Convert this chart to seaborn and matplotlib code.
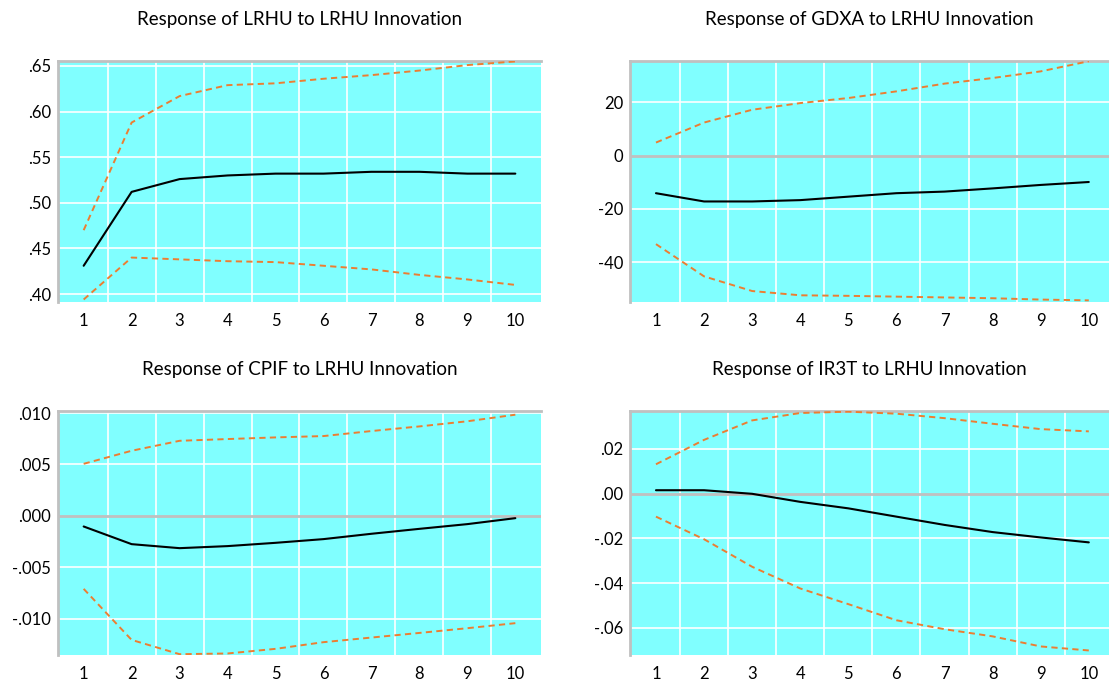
import matplotlib
matplotlib.use("Agg")
import matplotlib.pyplot as plt
import numpy as np
import seaborn as sns

periods = list(range(1, 11))

titles = [
    "Response of LRHU to LRHU Innovation",
    "Response of GDXA to LRHU Innovation",
    "Response of CPIF to LRHU Innovation",
    "Response of IR3T to LRHU Innovation",
]

# impulse responses (point estimate, upper and lower bands)
lrhu_mid = [0.431, 0.512, 0.526, 0.530, 0.532, 0.532, 0.534, 0.534, 0.532, 0.532]
lrhu_up = [0.470, 0.588, 0.617, 0.629, 0.631, 0.636, 0.640, 0.645, 0.651, 0.655]
lrhu_lo = [0.394, 0.440, 0.438, 0.436, 0.435, 0.431, 0.427, 0.421, 0.416, 0.410]

gdxa_mid = [-14.1, -17.2, -17.2, -16.7, -15.4, -14.1, -13.5, -12.3, -11.0, -9.9]
gdxa_up = [4.9, 12.4, 17.2, 19.7, 21.6, 24.1, 27.0, 29.1, 31.6, 35.4]
gdxa_lo = [-33.2, -45.3, -50.8, -52.4, -52.6, -52.9, -53.2, -53.5, -54.0, -54.3]

cpif_mid = [-0.00104, -0.00276, -0.00315, -0.00295, -0.00263, -0.00227, -0.00175, -0.00127, -0.00081, -0.00023]
cpif_up = [0.00506, 0.00633, 0.00730, 0.00747, 0.00763, 0.00776, 0.00825, 0.00870, 0.00920, 0.00984]
cpif_lo = [-0.00711, -0.01208, -0.01347, -0.01340, -0.01295, -0.01230, -0.01185, -0.01140, -0.01094, -0.01045]

ir3t_mid = [0.0015, 0.0015, -0.0001, -0.0037, -0.0066, -0.0103, -0.0140, -0.0172, -0.0196, -0.0218]
ir3t_up = [0.0131, 0.0240, 0.0327, 0.0360, 0.0366, 0.0357, 0.0337, 0.0312, 0.0288, 0.0278]
ir3t_lo = [-0.0103, -0.0204, -0.0327, -0.0424, -0.0494, -0.0566, -0.0606, -0.0638, -0.0683, -0.0701]

yticks = [
    [0.40, 0.45, 0.50, 0.55, 0.60, 0.65],
    [-40, -20, 0, 20],
    [-0.010, -0.005, 0.000, 0.005, 0.010],
    [-0.06, -0.04, -0.02, 0.00, 0.02],
]
decimals = [2, 0, 3, 2]
ylims = [(0.3916, 0.6558), (-54.8, 35.6), (-0.0135, 0.0102), (-0.0719, 0.0369)]
xlims = [(0.465, 10.535), (0.46, 10.42), (0.465, 10.535), (0.46, 10.42)]

series = [
    (lrhu_mid, lrhu_up, lrhu_lo),
    (gdxa_mid, gdxa_up, gdxa_lo),
    (cpif_mid, cpif_up, cpif_lo),
    (ir3t_mid, ir3t_up, ir3t_lo),
]

sns.set_style("white")
plt.rcParams["font.family"] = ["Lato", "DejaVu Sans"]

W, H = 1109, 680
fig = plt.figure(figsize=(W / 100, H / 100), dpi=100)

boxes = [
    (58, 60.7, 541, 301.7),
    (630, 60.7, 1109, 301.7),
    (58, 411, 541, 654.5),
    (630, 411, 1109, 654.5),
]


def fmt(v, dec):
    s = f"{v:.{dec}f}"
    if dec > 0:
        s = s.replace("-0.", "-.").replace("0.", ".", 1) if s.startswith(("0.", "-0.")) else s
    if s in ("-0", "-.00", "-.000"):
        s = s[1:]
    return s


cyan = "#80FFFF"
orange = "#ED7D31"
frame = "#C0C0C0"

for i, (l, t, r, b) in enumerate(boxes):
    ax = fig.add_axes([l / W, 1 - b / H, (r - l) / W, (b - t) / H])
    ax.set_facecolor(cyan)
    mid, up, lo = series[i]

    # grid
    for gx in np.arange(1.5, 10.5, 1.0):
        ax.axvline(gx, color="white", lw=1.2, zorder=1)
    for gy in yticks[i]:
        if gy == 0:
            ax.axhline(0, color=frame, lw=2, zorder=1.5)
        else:
            ax.axhline(gy, color="white", lw=1.2, zorder=1)

    sns.lineplot(x=periods, y=up, ax=ax, color=orange, lw=1.4, dashes=False,
                 linestyle=(0, (3.2, 2.2)), zorder=3)
    sns.lineplot(x=periods, y=lo, ax=ax, color=orange, lw=1.4, dashes=False,
                 linestyle=(0, (3.2, 2.2)), zorder=3)
    sns.lineplot(x=periods, y=mid, ax=ax, color="black", lw=1.5, zorder=4)

    ax.set_xlim(*xlims[i])
    ax.set_ylim(*ylims[i])
    ax.set_xticks(periods)
    ax.set_xticklabels([str(p) for p in periods])
    ax.set_yticks(yticks[i])
    ax.set_yticklabels([fmt(v, decimals[i]) for v in yticks[i]])
    ax.tick_params(axis="both", length=0, labelsize=12, colors="black")
    ax.tick_params(axis="x", pad=8)
    ax.tick_params(axis="y", pad=5)
    ax.set_xlabel("")
    ax.set_ylabel("")

    for side in ["right", "bottom"]:
        ax.spines[side].set_visible(False)
    for side in ["left", "top"]:
        ax.spines[side].set_visible(True)
        ax.spines[side].set_color(frame)
        ax.spines[side].set_linewidth(2)

    ax.set_title(titles[i], fontsize=13.5, pad=26, color="black")

fig.savefig("out.png", dpi=100)
